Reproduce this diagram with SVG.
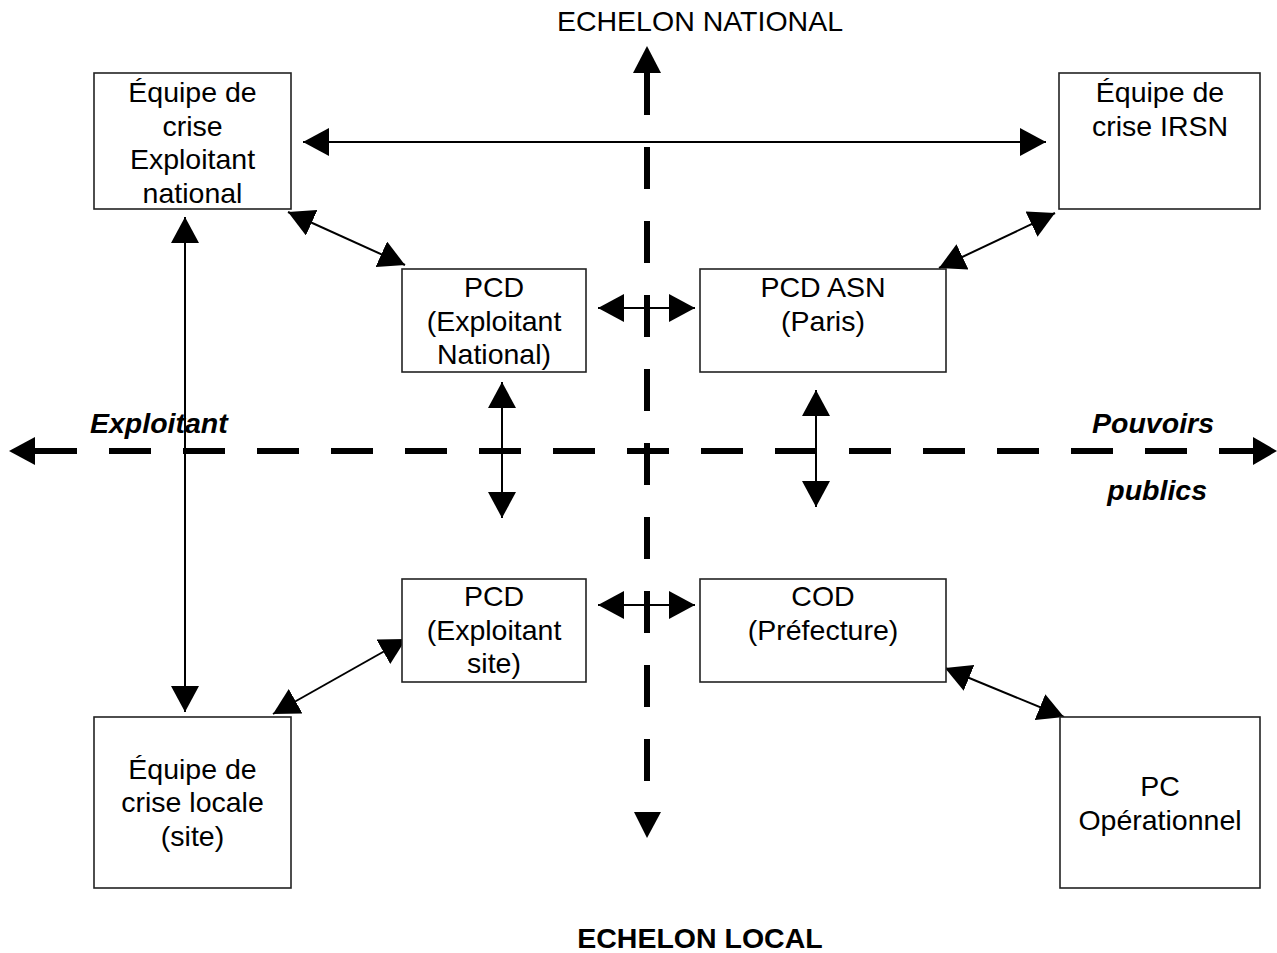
<svg xmlns="http://www.w3.org/2000/svg" width="1277" height="953" viewBox="0 0 1277 953">
<style>
.box{fill:#fff;stroke:#222;stroke-width:1.6}
.t{font-family:"Liberation Sans",Arial,sans-serif;font-size:28.5px;fill:#000;text-anchor:middle}
.bi{font-family:"Liberation Sans",Arial,sans-serif;font-size:28.5px;font-weight:bold;font-style:italic;fill:#000}
.axis{stroke:#000;stroke-width:6;fill:none;stroke-dasharray:42 32}
.ar{stroke:#000;stroke-width:2;fill:none;marker-start:url(#ah);marker-end:url(#ah)}
</style>
<defs>
<marker id="ah" markerUnits="userSpaceOnUse" markerWidth="27" markerHeight="28" refX="26" refY="14" orient="auto-start-reverse" viewBox="0 0 27 28">
<path d="M0,0 L26,14 L0,28 z" fill="#000"/>
</marker>
</defs>
<rect width="1277" height="953" fill="#fff"/>
<g id="axes">
<line class="axis" x1="647" y1="73" x2="647" y2="781"/>
<polygon points="633,73 661,73 647,46" fill="#000"/>
<polygon points="634,812 661,812 647,838" fill="#000"/>
<line class="axis" x1="35" y1="451" x2="1254" y2="451"/>
<polygon points="35,437 35,465 9,451" fill="#000"/>
<polygon points="1253,437 1253,465 1277,451" fill="#000"/>
</g>
<g id="connectors">
<line class="ar" x1="303" y1="142" x2="1046" y2="142"/>
<line class="ar" x1="288" y1="212" x2="405" y2="265"/>
<line class="ar" x1="185" y1="217" x2="185" y2="712"/>
<line class="ar" x1="598" y1="308" x2="695" y2="308"/>
<line class="ar" x1="1055" y1="213" x2="939" y2="268"/>
<line class="ar" x1="502" y1="382" x2="502" y2="518"/>
<line class="ar" x1="816" y1="390" x2="816" y2="507"/>
<line class="ar" x1="598" y1="605" x2="695" y2="605"/>
<line class="ar" x1="406" y1="639" x2="273" y2="714"/>
<line class="ar" x1="945" y1="668" x2="1064" y2="717"/>
</g>
<g id="labels">
<text class="t" x="700" y="31">ECHELON NATIONAL</text>
<text x="700" y="948" style="font-family:'Liberation Sans',Arial,sans-serif;font-size:28.5px;font-weight:bold;text-anchor:middle">ECHELON LOCAL</text>
<text class="bi" x="90" y="433">Exploitant</text>
<text class="bi" x="1214" y="433" text-anchor="end">Pouvoirs</text>
<text class="bi" x="1207" y="500" text-anchor="end">publics</text>
</g>
<g id="n_equipe_nat">
<rect class="box" x="94" y="73" width="197" height="136"/>
<text class="t" x="192.5" y="102">Équipe de</text>
<text class="t" x="192.5" y="135.5">crise</text>
<text class="t" x="192.5" y="169">Exploitant</text>
<text class="t" x="192.5" y="202.5">national</text>
</g>
<g id="n_irsn">
<rect class="box" x="1059" y="73" width="201" height="136"/>
<text class="t" x="1160" y="102">Équipe de</text>
<text class="t" x="1160" y="135.5">crise IRSN</text>
</g>
<g id="n_pcd_nat">
<rect class="box" x="402" y="269" width="184" height="103"/>
<text class="t" x="494" y="297">PCD</text>
<text class="t" x="494" y="331">(Exploitant</text>
<text class="t" x="494" y="364">National)</text>
</g>
<g id="n_pcd_asn">
<rect class="box" x="700" y="269" width="246" height="103"/>
<text class="t" x="823" y="297">PCD ASN</text>
<text class="t" x="823" y="331">(Paris)</text>
</g>
<g id="n_pcd_site">
<rect class="box" x="402" y="579" width="184" height="103"/>
<text class="t" x="494" y="606">PCD</text>
<text class="t" x="494" y="640">(Exploitant</text>
<text class="t" x="494" y="673">site)</text>
</g>
<g id="n_cod">
<rect class="box" x="700" y="579" width="246" height="103"/>
<text class="t" x="823" y="606">COD</text>
<text class="t" x="823" y="640">(Préfecture)</text>
</g>
<g id="n_equipe_locale">
<rect class="box" x="94" y="717" width="197" height="171"/>
<text class="t" x="192.5" y="779">Équipe de</text>
<text class="t" x="192.5" y="812">crise locale</text>
<text class="t" x="192.5" y="846">(site)</text>
</g>
<g id="n_pc_op">
<rect class="box" x="1060" y="717" width="200" height="171"/>
<text class="t" x="1160" y="796">PC</text>
<text class="t" x="1160" y="830">Opérationnel</text>
</g>
</svg>
